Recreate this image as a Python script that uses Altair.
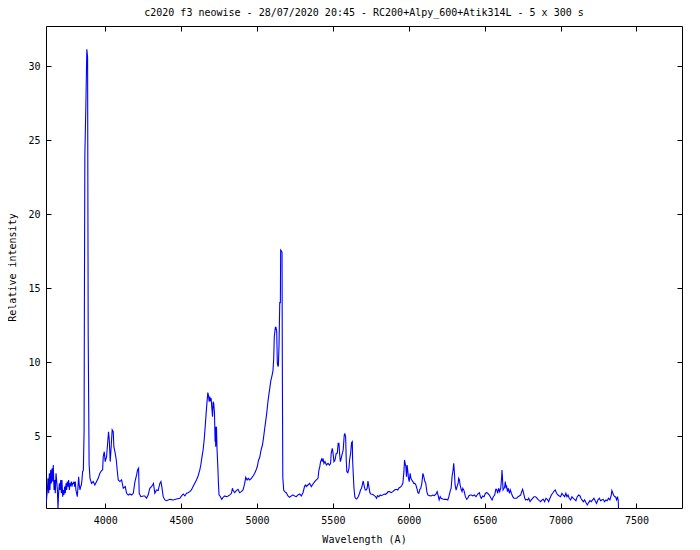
import altair as alt
import pandas as pd

TITLE = "c2020 f3 neowise - 28/07/2020 20:45 - RC200+Alpy_600+Atik314L - 5 x 300 s"
X_TITLE = "Wavelength (A)"
Y_TITLE = "Relative intensity"
X_TICKS = [4000, 4500, 5000, 5500, 6000, 6500, 7000, 7500]
Y_TICKS = [5, 10, 15, 20, 25, 30]
X_RANGE = [3610, 7800]
Y_RANGE = [0.155, 32.72]

WAVELENGTH = [
    3611, 3619, 3623, 3628, 3632, 3636, 3641, 3645, 3650, 3654, 3658, 3663, 3667, 3671, 3676,
    3680, 3685, 3689, 3693, 3698, 3702, 3707, 3711, 3715, 3720, 3724, 3728, 3733, 3737, 3742,
    3746, 3750, 3755, 3759, 3764, 3768, 3772, 3777, 3781, 3785, 3790, 3794, 3799, 3803, 3807,
    3812, 3816, 3821, 3825, 3829, 3834, 3838, 3843, 3847, 3851,
    3856, 3861, 3863, 3866, 3872, 3879, 3884, 3888, 3894, 3900,
    3910, 3921, 3932, 3943, 3954, 3965, 3976, 3983, 3987, 3994, 4000, 4009, 4016, 4022, 4027,
    4033, 4040, 4046, 4053, 4057, 4066, 4073, 4079, 4086, 4097, 4108, 4119, 4132, 4141, 4152,
    4163, 4174, 4185, 4196, 4207, 4213, 4220, 4224, 4235, 4250, 4261, 4272, 4283, 4294, 4305,
    4312, 4318, 4327, 4338, 4349, 4360, 4367, 4373, 4382, 4393, 4404, 4426, 4448, 4470,
    4492, 4503, 4514, 4525, 4536, 4546, 4557, 4568, 4579, 4590, 4601, 4612, 4623, 4630, 4636,
    4645, 4652, 4658, 4665, 4671, 4676, 4680, 4685, 4689, 4693, 4698, 4702, 4707, 4711, 4715,
    4720, 4724, 4726, 4728, 4733, 4737, 4742, 4746, 4750, 4759, 4768, 4777, 4788, 4799, 4810,
    4821, 4832, 4838, 4843, 4853, 4864, 4875, 4886, 4897, 4908, 4919, 4926, 4935, 4943, 4952,
    4963, 4974, 4985, 4996, 5003, 5009, 5018, 5027, 5036, 5044, 5051, 5057, 5064, 5071,
    5078, 5085, 5092, 5099, 5105, 5110, 5114, 5121, 5125, 5130, 5134, 5139, 5141, 5145, 5150,
    5154, 5156, 5160, 5165, 5167, 5170,
    5176, 5182, 5193, 5204, 5215, 5226, 5237, 5248, 5259, 5270, 5281, 5292, 5303, 5314, 5321,
    5325, 5336, 5347, 5358, 5369, 5380, 5391, 5402, 5408, 5413, 5419, 5426, 5430, 5435, 5441,
    5448, 5457, 5468, 5478,
    5485, 5489, 5496, 5500, 5507, 5514, 5522, 5529, 5535, 5540, 5544, 5549, 5555, 5562, 5568,
    5575, 5579, 5584, 5588, 5592, 5599, 5606, 5610, 5617, 5623, 5628, 5630, 5634, 5639, 5645,
    5654, 5660, 5667, 5676, 5682, 5689, 5696, 5700, 5707, 5713, 5720, 5726, 5731, 5737, 5744,
    5750, 5759, 5768, 5775, 5781, 5788, 5794, 5803, 5812, 5821, 5829, 5838, 5847, 5856, 5864,
    5873, 5884, 5895, 5906, 5917, 5928, 5935, 5943, 5952, 5961, 5968, 5972, 5976, 5981, 5985,
    5989, 5994, 5998, 6003, 6009, 6014, 6020, 6027, 6033, 6040, 6047, 6053, 6060, 6066, 6073,
    6079, 6086, 6093, 6099, 6106, 6112, 6119, 6125, 6136,
    6147, 6158, 6169, 6180, 6187, 6193, 6200, 6207, 6213, 6224, 6235, 6246, 6257, 6264, 6272,
    6279, 6285, 6292, 6296, 6301, 6305, 6312, 6318, 6325, 6329, 6334, 6338, 6345, 6351, 6356,
    6364, 6373, 6382, 6389, 6395, 6404, 6413, 6421, 6432, 6443, 6454, 6465, 6472, 6478, 6487,
    6496, 6505, 6514, 6520, 6531, 6542, 6549, 6557, 6566, 6573, 6579, 6586, 6592, 6599, 6606,
    6612, 6614, 6617, 6621, 6628, 6632, 6636, 6641, 6645, 6650, 6656, 6663, 6669, 6676, 6685,
    6693, 6702, 6711, 6720, 6728, 6737, 6744, 6750, 6757, 6764, 6770, 6777, 6783, 6790, 6799,
    6807, 6816, 6825, 6834, 6842, 6851, 6860, 6869, 6878, 6886, 6895, 6904, 6913, 6921, 6930,
    6939, 6948, 6957, 6965, 6974, 6983, 6992, 7000, 7009, 7018, 7027, 7035, 7042, 7049, 7057,
    7066, 7075, 7084, 7092, 7101, 7110, 7119, 7128, 7134, 7141, 7150, 7158, 7167, 7176, 7185,
    7193, 7202, 7211, 7220, 7228, 7237, 7246, 7255, 7264, 7272, 7281, 7290, 7299, 7307, 7316,
    7325, 7334, 7338, 7345, 7349, 7356, 7362, 7369, 7375, 7380, 7382,
]

INTENSITY = [
    0.47, 1.37, 2.16, 1.15, 2.50, 1.37, 2.73, 1.82, 2.84, 1.94, 3.06, 1.37, 2.05, 1.15, 2.50,
    2.05, 1.37, 0.13, 1.15, 1.82, 1.37, 2.05, 1.15, 2.05, 0.92, 1.37, 1.04, 1.60, 1.15, 1.82,
    1.37, 1.94, 1.60, 2.05, 1.37, 1.82, 1.71, 1.94, 1.60, 1.82, 1.82, 1.94, 1.60, 1.94, 1.37,
    1.15, 0.92, 1.60, 2.27, 1.71, 1.37, 1.60, 1.71, 2.05, 2.61,
    2.70, 5.40, 14.10, 24.00, 27.00, 31.15, 30.60, 11.80, 3.10, 2.16,
    1.82, 1.94, 1.71, 1.94, 2.16, 2.50, 2.68, 2.72, 3.62, 3.96, 3.29, 3.62, 4.53, 5.31, 4.75,
    3.29, 4.41, 5.43, 5.31, 4.30, 3.85, 3.40, 2.72, 2.05, 1.94, 2.05, 1.49, 1.60, 1.15, 1.03,
    1.10, 1.03, 1.15, 1.94, 2.39, 2.72, 2.84, 1.15, 0.92, 0.97, 0.97, 0.81, 1.03, 1.49, 1.60,
    1.71, 1.82, 1.15, 1.37, 1.33, 1.82, 1.94, 1.60, 0.92, 0.70, 0.65, 0.74, 0.70, 0.76,
    0.81, 0.97, 1.10, 0.97, 1.15, 1.19, 1.26, 1.37, 1.60, 1.82, 2.05, 2.32, 2.72, 3.06, 3.51,
    4.08, 4.75, 5.54, 6.55, 7.34, 7.95, 7.79, 7.34, 7.68, 7.45, 7.57, 7.00, 6.33, 7.34, 7.23,
    6.55, 4.64, 5.65, 4.30, 5.65, 4.08, 2.95, 1.82, 1.04, 0.92, 0.74, 0.88, 0.97, 0.92, 0.97,
    1.04, 1.15, 1.49, 1.33, 1.19, 1.33, 1.42, 1.19, 1.26, 1.37, 1.82, 2.23, 2.05, 2.16, 2.05,
    2.16, 2.32, 2.50, 2.77, 2.99, 3.35, 3.58, 4.08, 4.41, 4.98, 5.54, 5.99, 6.55, 7.23,
    7.80, 8.30, 8.80, 9.10, 9.40, 10.20, 11.73, 12.36, 12.36, 12.07, 9.93, 9.71, 9.82, 11.06, 14.03,
    14.03, 17.59, 17.54, 17.43, 9.82, 2.23,
    1.37, 1.26, 1.19, 0.97, 0.88, 0.97, 1.04, 0.97, 0.92, 1.04, 1.10, 0.97, 1.19, 1.64, 1.71,
    1.60, 1.71, 1.82, 1.60, 1.78, 1.94, 2.05, 2.16, 2.72, 2.90, 3.29, 3.45, 3.29, 3.51, 3.17,
    3.29, 3.06, 3.17, 3.06,
    3.17, 3.85, 4.19, 3.96, 3.29, 3.40, 3.85, 3.85, 4.53, 4.53, 3.85, 3.29, 3.51, 3.85, 4.08,
    5.09, 5.16, 4.98, 3.40, 2.61, 2.54, 2.84, 3.40, 3.85, 4.57, 4.64, 3.40, 2.50, 1.49, 0.88,
    0.76, 0.81, 0.92, 1.15, 1.37, 1.49, 1.82, 1.98, 1.60, 1.37, 1.37, 1.49, 1.98, 1.60, 1.19,
    1.10, 1.08, 1.04, 0.97, 0.92, 0.81, 0.99, 0.92, 1.04, 0.99, 1.04, 1.10, 1.08, 1.15, 1.26,
    1.26, 1.19, 1.26, 1.37, 1.42, 1.37, 1.51, 1.55, 1.64, 1.82, 2.61, 3.40, 3.17, 2.95, 2.27,
    3.06, 2.61, 2.16, 1.94, 2.50, 2.16, 2.05, 1.94, 1.82, 1.82, 1.71, 1.49, 1.19, 1.15, 1.42,
    1.49, 1.82, 2.50, 2.27, 1.94, 1.82, 1.26, 1.04, 0.99,
    0.97, 1.03, 0.99, 1.10, 1.26, 1.03, 0.70, 0.92, 0.81, 0.76, 0.74, 0.74, 0.70, 0.92, 1.26,
    1.49, 2.27, 2.72, 3.17, 2.50, 1.71, 1.37, 1.60, 1.82, 2.16, 2.05, 1.71, 1.42, 1.26, 1.49,
    1.33, 0.92, 0.74, 0.81, 0.97, 1.03, 1.03, 0.97, 1.03, 0.92, 1.10, 1.19, 0.92, 0.81, 0.97,
    0.92, 1.15, 1.19, 1.15, 1.03, 0.81, 0.70, 0.92, 1.03, 1.42, 1.42, 1.15, 1.49, 1.26, 1.49,
    2.27, 2.72, 2.27, 1.37, 1.49, 1.60, 1.94, 1.49, 1.60, 1.26, 1.49, 1.15, 1.37, 1.15, 0.92,
    0.81, 0.81, 0.81, 0.92, 0.97, 1.03, 1.26, 1.42, 1.15, 0.81, 0.70, 0.74, 0.70, 0.81, 0.58,
    0.70, 0.81, 0.92, 0.92, 0.85, 0.74, 0.65, 0.58, 0.70, 0.74, 0.58, 0.81, 0.74, 0.58, 0.81,
    1.03, 1.15, 1.30, 1.37, 1.15, 1.03, 0.97, 0.92, 1.15, 1.03, 0.92, 1.15, 0.92, 1.03, 0.81,
    0.70, 0.92, 0.81, 0.74, 0.65, 0.92, 1.03, 0.97, 0.81, 0.70, 0.58, 0.70, 0.52, 0.36, 0.52,
    0.65, 0.58, 0.70, 0.81, 0.65, 0.47, 0.70, 0.81, 0.65, 0.70, 0.74, 0.58, 0.70, 0.65, 0.81,
    0.70, 1.03, 1.33, 1.15, 1.03, 0.92, 0.92, 0.70, 0.92, 0.65, 0.05,
]

df = pd.DataFrame({"wl": WAVELENGTH, "I": INTENSITY})

FONT = "DejaVu Sans Mono"
xscale = alt.Scale(domain=X_RANGE, nice=False, zero=False)
yscale = alt.Scale(domain=Y_RANGE, nice=False, zero=False)

common_axis = dict(
    grid=False, domain=False, offset=-5, tickSize=5, tickColor="black", tickWidth=1,
    labelFont=FONT, labelFontSize=10, labelColor="black",
    titleFont=FONT, titleFontSize=10, titleFontWeight="normal", titleColor="black",
)

main = alt.Chart(df).mark_line(color="#0000ff", strokeWidth=1.1, clip=True).encode(
    x=alt.X("wl:Q", scale=xscale, title=X_TITLE,
            axis=alt.Axis(orient="bottom", values=X_TICKS, labelPadding=7, titlePadding=9,
                          format="d", **common_axis)),
    y=alt.Y("I:Q", scale=yscale, title=Y_TITLE,
            axis=alt.Axis(orient="left", values=Y_TICKS, labelPadding=6, titlePadding=10,
                          format="d", **common_axis)),
)

mirror = alt.Chart(df).mark_line(opacity=0).encode(
    x=alt.X("wl:Q", scale=xscale, title="",
            axis=alt.Axis(orient="top", values=X_TICKS, labels=False, **common_axis)),
    y=alt.Y("I:Q", scale=yscale, title="",
            axis=alt.Axis(orient="right", values=Y_TICKS, labels=False, **common_axis)),
)

chart = alt.layer(main, mirror).resolve_axis(x="independent", y="independent").properties(
    width=636,
    height=482,
    title=alt.TitleParams(TITLE, font=FONT, fontSize=10, fontWeight="normal", color="black",
                          anchor="middle", offset=8),
    autosize=alt.AutoSizeParams(type="none"),
    padding={"left": 38, "top": 18, "right": 10, "bottom": 40},
    background="white",
).configure_view(stroke="black", strokeWidth=1)

chart.save("out.html", embed_options={"renderer": "svg", "actions": False})
